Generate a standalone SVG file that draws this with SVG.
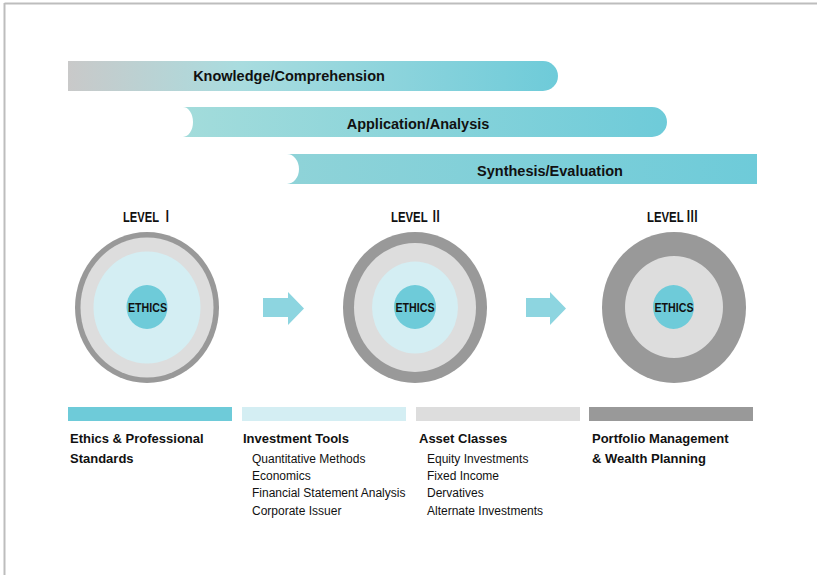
<svg xmlns="http://www.w3.org/2000/svg" width="817" height="575" viewBox="0 0 817 575">
<defs>
<linearGradient id="g1" x1="68" y1="0" x2="558" y2="0" gradientUnits="userSpaceOnUse">
<stop offset="0" stop-color="#c9c9c9"/><stop offset="0.35" stop-color="#a9dcdf"/><stop offset="1" stop-color="#6ecbd9"/>
</linearGradient>
<linearGradient id="g2" x1="183" y1="0" x2="667" y2="0" gradientUnits="userSpaceOnUse">
<stop offset="0" stop-color="#a3dcdb"/><stop offset="1" stop-color="#6ecbd9"/>
</linearGradient>
<linearGradient id="g3" x1="287" y1="0" x2="757" y2="0" gradientUnits="userSpaceOnUse">
<stop offset="0" stop-color="#8fd3d8"/><stop offset="1" stop-color="#6ecbd9"/>
</linearGradient>
<style>
.band{font-family:"Liberation Sans",Arial,sans-serif;font-weight:bold;font-size:14.5px;fill:#111;text-anchor:middle}
.lvl{font-family:"Liberation Sans","Noto Sans CJK JP",sans-serif;font-weight:bold;font-size:15px;fill:#111}
.eth{font-family:"Liberation Sans",Arial,sans-serif;font-weight:bold;font-size:13.5px;fill:#111}
.hd{font-family:"Liberation Sans",Arial,sans-serif;font-weight:bold;font-size:13px;fill:#111}
.sub{font-family:"Liberation Sans",Arial,sans-serif;font-size:12px;fill:#111}
.dark{fill:#999}
.lgray{fill:#dddddd}
.lblue{fill:#d4eef3}
.teal{fill:#6ecbd9}
.arrow{fill:#8dd5e0}
</style>
</defs>
<rect width="817" height="575" fill="#fff"/>
<g id="frame">
<line x1="4.5" y1="3.5" x2="817" y2="3.5" stroke="#bdbdbd" stroke-width="2"/>
<line x1="4.5" y1="3" x2="4.5" y2="575" stroke="#bdbdbd" stroke-width="2"/>
</g>
<g id="band-knowledge">
<path d="M68 61 H543 A15 15 0 0 1 543 91 H68 Z" fill="url(#g1)"/>
<text class="band" x="289" y="81">Knowledge/Comprehension</text>
</g>
<g id="band-application">
<path d="M183 107 H652 A15 15 0 0 1 652 137 H183 A10 15 0 0 0 183 107 Z" fill="url(#g2)"/>
<text class="band" x="418" y="129">Application/Analysis</text>
</g>
<g id="band-synthesis">
<path d="M287 154 H757 V184 H287 A12 15 0 0 0 287 154 Z" fill="url(#g3)"/>
<text class="band" x="550" y="176">Synthesis/Evaluation</text>
</g>
<g id="level1">
<text class="lvl" x="123" y="222" textLength="50" lengthAdjust="spacingAndGlyphs">LEVEL Ⅰ</text>
<ellipse class="dark" cx="147" cy="307.5" rx="72" ry="75.5"/>
<ellipse class="lgray" cx="147" cy="307.5" rx="66.5" ry="70"/>
<ellipse class="lblue" cx="147" cy="307.5" rx="53.5" ry="56"/>
<ellipse class="teal" cx="147" cy="307" rx="20.5" ry="22"/>
<text class="eth" x="128" y="312" textLength="39" lengthAdjust="spacingAndGlyphs">ETHICS</text>
</g>
<g id="level2">
<text class="lvl" x="391" y="222" textLength="51" lengthAdjust="spacingAndGlyphs">LEVEL Ⅱ</text>
<ellipse class="dark" cx="415" cy="307.5" rx="72" ry="75.5"/>
<ellipse class="lgray" cx="415" cy="307.5" rx="61" ry="64.5"/>
<ellipse class="lblue" cx="415" cy="307.5" rx="43" ry="46"/>
<ellipse class="teal" cx="415" cy="307" rx="21" ry="22"/>
<text class="eth" x="395.5" y="312" textLength="39" lengthAdjust="spacingAndGlyphs">ETHICS</text>
</g>
<g id="level3">
<text class="lvl" x="647" y="222" textLength="51" lengthAdjust="spacingAndGlyphs">LEVEL Ⅲ</text>
<ellipse class="dark" cx="674" cy="307.5" rx="72" ry="75.5"/>
<ellipse class="lgray" cx="674" cy="307" rx="49" ry="51"/>
<ellipse class="teal" cx="673.5" cy="307" rx="20.5" ry="22"/>
<text class="eth" x="654.5" y="312" textLength="39" lengthAdjust="spacingAndGlyphs">ETHICS</text>
</g>
<g id="connectors">
<path class="arrow" d="M263 298 H288 V292 L304 308.5 L288 325 V317 H263 Z"/>
<path class="arrow" d="M526 298 H550 V292 L566 308.5 L550 325 V317 H526 Z"/>
</g>
<g id="col-ethics">
<rect class="teal" x="68" y="407" width="164" height="14"/>
<text class="hd" x="70" y="443">Ethics &amp; Professional</text>
<text class="hd" x="70" y="463">Standards</text>
</g>
<g id="col-tools">
<rect class="lblue" x="242" y="407" width="164" height="14"/>
<text class="hd" x="243" y="443">Investment Tools</text>
<text class="sub" x="252" y="463">Quantitative Methods</text>
<text class="sub" x="252" y="480">Economics</text>
<text class="sub" x="252" y="497">Financial Statement Analysis</text>
<text class="sub" x="252" y="515">Corporate Issuer</text>
</g>
<g id="col-assets">
<rect class="lgray" x="416" y="407" width="164" height="14"/>
<text class="hd" x="419" y="443">Asset Classes</text>
<text class="sub" x="427" y="463">Equity Investments</text>
<text class="sub" x="427" y="480">Fixed Income</text>
<text class="sub" x="427" y="497">Dervatives</text>
<text class="sub" x="427" y="515">Alternate Investments</text>
</g>
<g id="col-portfolio">
<rect class="dark" x="589" y="407" width="164" height="14"/>
<text class="hd" x="592" y="443">Portfolio Management</text>
<text class="hd" x="592" y="463">&amp; Wealth Planning</text>
</g>
</svg>
